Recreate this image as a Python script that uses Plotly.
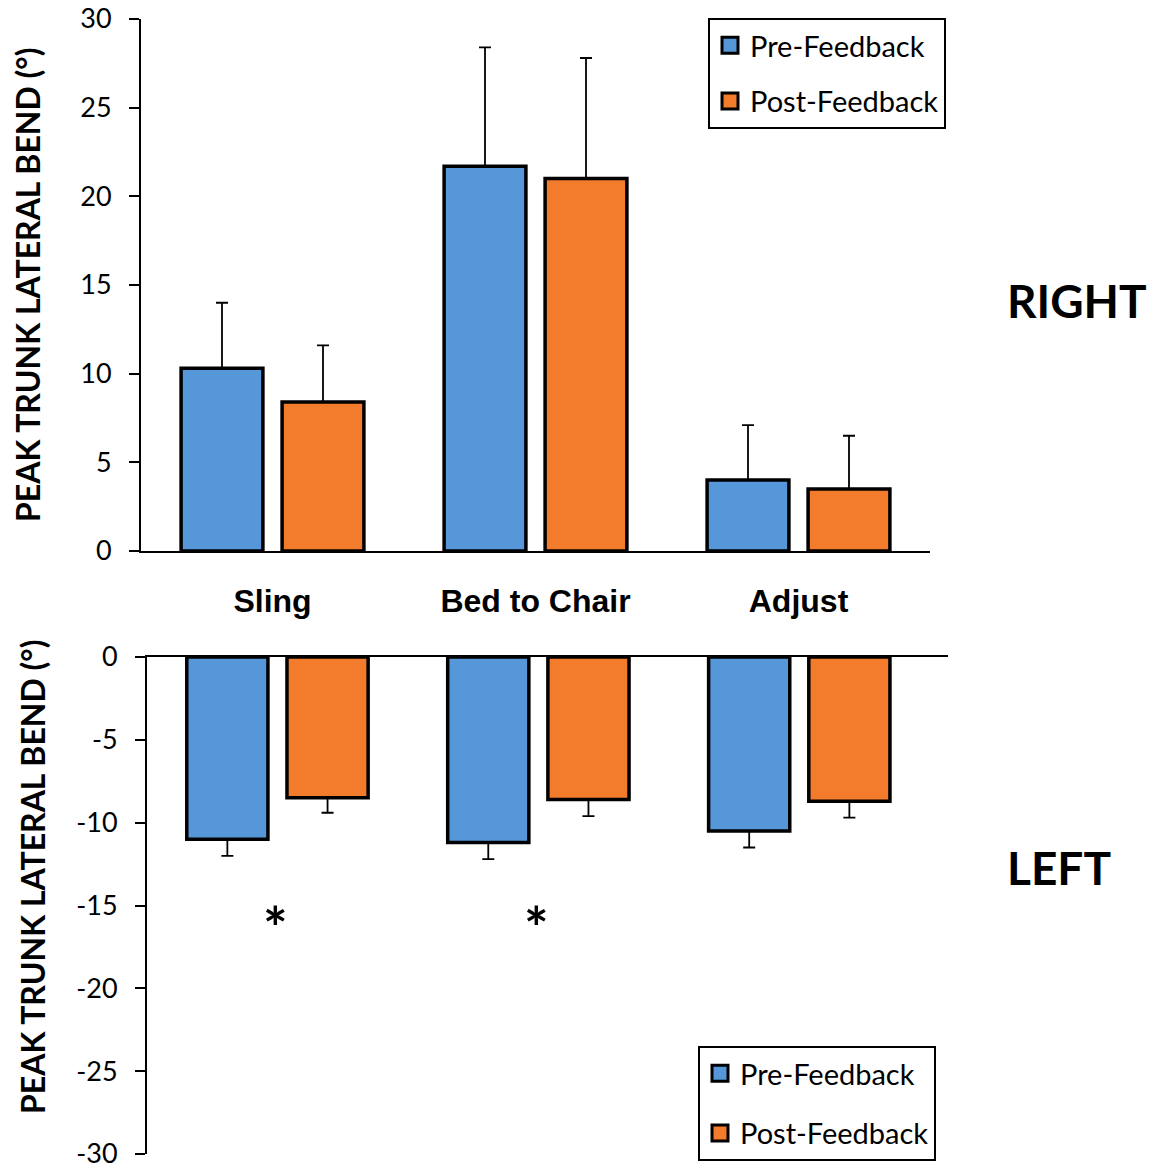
import plotly.graph_objects as go

# Peak trunk lateral bend (degrees), mean and SD per task
categories = ["Sling", "Bed to Chair", "Adjust"]

right_pre = [10.3, 21.7, 4.0]
right_pre_sd = [3.7, 6.7, 3.1]
right_post = [8.4, 21.0, 3.5]
right_post_sd = [3.2, 6.8, 3.0]

left_pre = [-11.0, -11.2, -10.5]
left_pre_sd = [1.0, 1.0, 1.0]
left_post = [-8.5, -8.6, -8.7]
left_post_sd = [0.9, 1.0, 1.0]

significant = ["Sling", "Bed to Chair"]
sig_y = -15.6

right_ticks = [0, 5, 10, 15, 20, 25, 30]
left_ticks = [0, -5, -10, -15, -20, -25, -30]
left_ticktext = ["0", "-5", "-10", "-15", "-20", "-25", "-30"]

W, H = 1153, 1167
BLUE = "#5597D8"
ORANGE = "#F27B2C"
FONT = "Lato"


def px_x(p):
    return p / W


def px_y(p):
    return 1 - p / H


fig = go.Figure()


def add_bars(values, sd, color, name, xa, ya, up):
    fig.add_trace(go.Bar(
        x=categories, y=values, name=name, xaxis=xa, yaxis=ya,
        marker=dict(color=color, line=dict(color="black", width=3.5)),
        error_y=dict(type="data", symmetric=False,
                     array=sd if up else [0] * len(sd),
                     arrayminus=[0] * len(sd) if up else sd,
                     color="black", thickness=1.8, width=6),
        showlegend=False,
    ))


add_bars(right_pre, right_pre_sd, BLUE, "Pre-Feedback", "x", "y", True)
add_bars(right_post, right_post_sd, ORANGE, "Post-Feedback", "x", "y", True)
add_bars(left_pre, left_pre_sd, BLUE, "Pre-Feedback", "x2", "y2", False)
add_bars(left_post, left_post_sd, ORANGE, "Post-Feedback", "x2", "y2", False)

# legend entries (square swatches) for both panels
for lg in ["legend", "legend2"]:
    for name, color in [("Pre-Feedback", BLUE), ("Post-Feedback", ORANGE)]:
        fig.add_trace(go.Scatter(
            x=[None], y=[None], mode="markers", name=name,
            marker=dict(symbol="square", size=16, color=color,
                        line=dict(color="black", width=3)),
            legend=lg, legendgroup=lg + name, xaxis="x", yaxis="y",
        ))

axis_common = dict(showgrid=False, zeroline=False, linecolor="black", linewidth=2,
                   automargin=False)

annotations = [
    dict(text="<b>PEAK TRUNK LATERAL BEND (°)</b>", textangle=-90,
         x=px_x(28), y=px_y(285), xref="paper", yref="paper",
         xanchor="center", yanchor="middle", showarrow=False,
         font=dict(family=FONT, size=32, color="black")),
    dict(text="<b>PEAK TRUNK LATERAL BEND (°)</b>", textangle=-90,
         x=px_x(32), y=px_y(877), xref="paper", yref="paper",
         xanchor="center", yanchor="middle", showarrow=False,
         font=dict(family=FONT, size=32, color="black")),
    dict(text="<b>RIGHT</b>", x=px_x(1005), y=px_y(301), xref="paper", yref="paper",
         xanchor="left", yanchor="middle", showarrow=False,
         font=dict(family=FONT, size=46, color="black")),
    dict(text="<b>LEFT</b>", x=px_x(1005), y=px_y(868), xref="paper", yref="paper",
         xanchor="left", yanchor="middle", showarrow=False,
         font=dict(family=FONT, size=46, color="black")),
]

# significance markers
for cat in significant:
    annotations.append(dict(
        text="<b>*</b>", x=cat, y=sig_y, xref="x2", yref="y2",
        xanchor="center", yanchor="middle", yshift=-11, xshift=-2, showarrow=False,
        font=dict(family=FONT, size=58, color="black")))

fig.update_layout(
    width=W, height=H,
    margin=dict(l=0, r=0, t=0, b=0, autoexpand=False),
    paper_bgcolor="white", plot_bgcolor="white",
    barmode="group", bargap=0.232, bargroupgap=0.19,
    font=dict(family=FONT, color="black"),
    xaxis=dict(domain=[px_x(141), px_x(930)], anchor="y", range=[-0.5, 2.5],
               showline=True, ticks="", showticklabels=True,
               tickfont=dict(family="Liberation Sans", size=32, color="black", weight="bold"),
               ticklabelstandoff=21, **axis_common),
    yaxis=dict(domain=[px_y(551), px_y(19)], anchor="x", range=[0, 30],
               tickvals=right_ticks, showline=True, ticks="outside", ticklen=10,
               tickwidth=2, tickcolor="black", ticklabelstandoff=12,
               ticklabeloverflow="allow",
               tickfont=dict(family=FONT, size=27, color="black"), **axis_common),
    xaxis2=dict(domain=[px_x(147), px_x(948)], anchor="y2", range=[-0.5, 2.57],
                side="top", showline=True, ticks="", showticklabels=False,
                **axis_common),
    yaxis2=dict(domain=[px_y(1154), px_y(657)], anchor="x2", range=[-30, 0],
                tickvals=left_ticks, ticktext=left_ticktext, showline=True,
                ticks="outside", ticklen=10, tickwidth=2, tickcolor="black",
                ticklabelstandoff=12, ticklabeloverflow="allow",
                tickfont=dict(family=FONT, size=27, color="black"), **axis_common),
    legend=dict(x=px_x(708), y=px_y(18), xanchor="left", yanchor="top",
                bgcolor="white", bordercolor="black", borderwidth=2,
                font=dict(family=FONT, size=29, color="black"),
                traceorder="grouped", tracegroupgap=15, itemsizing="trace"),
    legend2=dict(x=px_x(698), y=px_y(1046), xanchor="left", yanchor="top",
                 bgcolor="white", bordercolor="black", borderwidth=2,
                 font=dict(family=FONT, size=29, color="black"),
                 traceorder="grouped", tracegroupgap=19, itemsizing="trace"),
    annotations=annotations,
)

fig.write_html("out.html")
